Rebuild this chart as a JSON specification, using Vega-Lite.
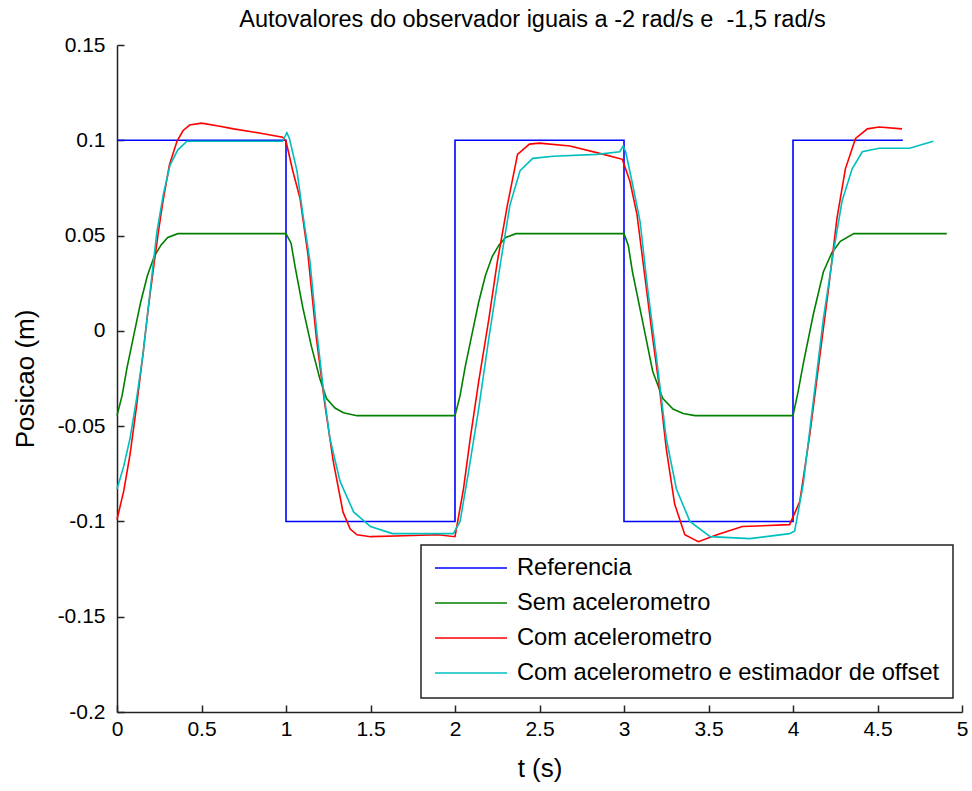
{
  "$schema": "https://vega.github.io/schema/vega-lite/v6.json",
  "width": 845,
  "height": 667,
  "autosize": {"type": "none"},
  "padding": {"left": 117, "top": 45, "right": 10, "bottom": 79},
  "background": "white",
  "title": {
    "text": "Autovalores do observador iguais a -2 rad/s e \u00a0-1,5 rad/s",
    "font": "Liberation Sans",
    "fontSize": 23.5,
    "fontWeight": "normal",
    "color": "black",
    "anchor": "middle",
    "frame": "group",
    "baseline": "alphabetic",
    "offset": 0,
    "dy": 16,
    "dx": -7
  },
  "data": {
    "values": [
      {"s": "Referencia", "t": 0, "y": 0.1},
      {"s": "Referencia", "t": 1, "y": 0.1},
      {"s": "Referencia", "t": 1, "y": -0.1},
      {"s": "Referencia", "t": 2, "y": -0.1},
      {"s": "Referencia", "t": 2, "y": 0.1},
      {"s": "Referencia", "t": 3, "y": 0.1},
      {"s": "Referencia", "t": 3, "y": -0.1},
      {"s": "Referencia", "t": 4, "y": -0.1},
      {"s": "Referencia", "t": 4, "y": 0.1},
      {"s": "Referencia", "t": 4.65, "y": 0.1},

      {"s": "Sem acelerometro", "t": 0, "y": -0.0445},
      {"s": "Sem acelerometro", "t": 0.03, "y": -0.034},
      {"s": "Sem acelerometro", "t": 0.06, "y": -0.019},
      {"s": "Sem acelerometro", "t": 0.1, "y": -0.002},
      {"s": "Sem acelerometro", "t": 0.14, "y": 0.015},
      {"s": "Sem acelerometro", "t": 0.18, "y": 0.029},
      {"s": "Sem acelerometro", "t": 0.22, "y": 0.039},
      {"s": "Sem acelerometro", "t": 0.26, "y": 0.045},
      {"s": "Sem acelerometro", "t": 0.3, "y": 0.049},
      {"s": "Sem acelerometro", "t": 0.36, "y": 0.051},
      {"s": "Sem acelerometro", "t": 1.0, "y": 0.051},
      {"s": "Sem acelerometro", "t": 1.03, "y": 0.046},
      {"s": "Sem acelerometro", "t": 1.055, "y": 0.033},
      {"s": "Sem acelerometro", "t": 1.1, "y": 0.012},
      {"s": "Sem acelerometro", "t": 1.15, "y": -0.008},
      {"s": "Sem acelerometro", "t": 1.2, "y": -0.025},
      {"s": "Sem acelerometro", "t": 1.24, "y": -0.0355},
      {"s": "Sem acelerometro", "t": 1.29, "y": -0.0405},
      {"s": "Sem acelerometro", "t": 1.34, "y": -0.043},
      {"s": "Sem acelerometro", "t": 1.42, "y": -0.0445},
      {"s": "Sem acelerometro", "t": 2.0, "y": -0.0445},
      {"s": "Sem acelerometro", "t": 2.03, "y": -0.034},
      {"s": "Sem acelerometro", "t": 2.06, "y": -0.019},
      {"s": "Sem acelerometro", "t": 2.1, "y": -0.002},
      {"s": "Sem acelerometro", "t": 2.14, "y": 0.015},
      {"s": "Sem acelerometro", "t": 2.18, "y": 0.029},
      {"s": "Sem acelerometro", "t": 2.22, "y": 0.039},
      {"s": "Sem acelerometro", "t": 2.26, "y": 0.045},
      {"s": "Sem acelerometro", "t": 2.3, "y": 0.049},
      {"s": "Sem acelerometro", "t": 2.36, "y": 0.051},
      {"s": "Sem acelerometro", "t": 3.0, "y": 0.051},
      {"s": "Sem acelerometro", "t": 3.025, "y": 0.045},
      {"s": "Sem acelerometro", "t": 3.05, "y": 0.031},
      {"s": "Sem acelerometro", "t": 3.11, "y": 0.005},
      {"s": "Sem acelerometro", "t": 3.17, "y": -0.0213},
      {"s": "Sem acelerometro", "t": 3.23, "y": -0.0355},
      {"s": "Sem acelerometro", "t": 3.29, "y": -0.041},
      {"s": "Sem acelerometro", "t": 3.35, "y": -0.0434},
      {"s": "Sem acelerometro", "t": 3.42, "y": -0.0445},
      {"s": "Sem acelerometro", "t": 4.0, "y": -0.0445},
      {"s": "Sem acelerometro", "t": 4.03, "y": -0.032},
      {"s": "Sem acelerometro", "t": 4.06, "y": -0.0176},
      {"s": "Sem acelerometro", "t": 4.12, "y": 0.0086},
      {"s": "Sem acelerometro", "t": 4.18, "y": 0.031},
      {"s": "Sem acelerometro", "t": 4.23, "y": 0.041},
      {"s": "Sem acelerometro", "t": 4.28, "y": 0.047},
      {"s": "Sem acelerometro", "t": 4.36, "y": 0.051},
      {"s": "Sem acelerometro", "t": 4.91, "y": 0.051},

      {"s": "Com acelerometro", "t": 0, "y": -0.099},
      {"s": "Com acelerometro", "t": 0.04, "y": -0.084},
      {"s": "Com acelerometro", "t": 0.077, "y": -0.065},
      {"s": "Com acelerometro", "t": 0.115, "y": -0.04},
      {"s": "Com acelerometro", "t": 0.154, "y": -0.012},
      {"s": "Com acelerometro", "t": 0.185, "y": 0.012},
      {"s": "Com acelerometro", "t": 0.213, "y": 0.031},
      {"s": "Com acelerometro", "t": 0.245, "y": 0.052},
      {"s": "Com acelerometro", "t": 0.272, "y": 0.068},
      {"s": "Com acelerometro", "t": 0.31, "y": 0.087},
      {"s": "Com acelerometro", "t": 0.355, "y": 0.0995},
      {"s": "Com acelerometro", "t": 0.39, "y": 0.105},
      {"s": "Com acelerometro", "t": 0.43, "y": 0.108},
      {"s": "Com acelerometro", "t": 0.5, "y": 0.109},
      {"s": "Com acelerometro", "t": 0.6, "y": 0.1075},
      {"s": "Com acelerometro", "t": 0.69, "y": 0.106},
      {"s": "Com acelerometro", "t": 0.85, "y": 0.1037},
      {"s": "Com acelerometro", "t": 0.98, "y": 0.1016},
      {"s": "Com acelerometro", "t": 1.0, "y": 0.0995},
      {"s": "Com acelerometro", "t": 1.04, "y": 0.084},
      {"s": "Com acelerometro", "t": 1.083, "y": 0.0695},
      {"s": "Com acelerometro", "t": 1.13, "y": 0.04},
      {"s": "Com acelerometro", "t": 1.18, "y": -0.004},
      {"s": "Com acelerometro", "t": 1.23, "y": -0.0387},
      {"s": "Com acelerometro", "t": 1.28, "y": -0.0686},
      {"s": "Com acelerometro", "t": 1.337, "y": -0.095},
      {"s": "Com acelerometro", "t": 1.38, "y": -0.104},
      {"s": "Com acelerometro", "t": 1.42, "y": -0.107},
      {"s": "Com acelerometro", "t": 1.5, "y": -0.108},
      {"s": "Com acelerometro", "t": 1.7, "y": -0.1075},
      {"s": "Com acelerometro", "t": 1.9, "y": -0.107},
      {"s": "Com acelerometro", "t": 2.0, "y": -0.108},
      {"s": "Com acelerometro", "t": 2.05, "y": -0.083},
      {"s": "Com acelerometro", "t": 2.09, "y": -0.0565},
      {"s": "Com acelerometro", "t": 2.14, "y": -0.0266},
      {"s": "Com acelerometro", "t": 2.2, "y": 0.006},
      {"s": "Com acelerometro", "t": 2.25, "y": 0.036},
      {"s": "Com acelerometro", "t": 2.31, "y": 0.066},
      {"s": "Com acelerometro", "t": 2.37, "y": 0.0926},
      {"s": "Com acelerometro", "t": 2.44, "y": 0.098},
      {"s": "Com acelerometro", "t": 2.5, "y": 0.0985},
      {"s": "Com acelerometro", "t": 2.68, "y": 0.097},
      {"s": "Com acelerometro", "t": 2.88, "y": 0.0926},
      {"s": "Com acelerometro", "t": 2.99, "y": 0.09},
      {"s": "Com acelerometro", "t": 3.035, "y": 0.0785},
      {"s": "Com acelerometro", "t": 3.077, "y": 0.061},
      {"s": "Com acelerometro", "t": 3.12, "y": 0.031},
      {"s": "Com acelerometro", "t": 3.17, "y": -0.004},
      {"s": "Com acelerometro", "t": 3.21, "y": -0.03},
      {"s": "Com acelerometro", "t": 3.25, "y": -0.0618},
      {"s": "Com acelerometro", "t": 3.3, "y": -0.091},
      {"s": "Com acelerometro", "t": 3.36, "y": -0.107},
      {"s": "Com acelerometro", "t": 3.44, "y": -0.1106},
      {"s": "Com acelerometro", "t": 3.55, "y": -0.107},
      {"s": "Com acelerometro", "t": 3.7, "y": -0.1027},
      {"s": "Com acelerometro", "t": 3.98, "y": -0.1017},
      {"s": "Com acelerometro", "t": 4.04, "y": -0.0896},
      {"s": "Com acelerometro", "t": 4.1, "y": -0.054},
      {"s": "Com acelerometro", "t": 4.16, "y": -0.0124},
      {"s": "Com acelerometro", "t": 4.21, "y": 0.022},
      {"s": "Com acelerometro", "t": 4.26, "y": 0.059},
      {"s": "Com acelerometro", "t": 4.31, "y": 0.085},
      {"s": "Com acelerometro", "t": 4.37, "y": 0.101},
      {"s": "Com acelerometro", "t": 4.44, "y": 0.106},
      {"s": "Com acelerometro", "t": 4.51, "y": 0.107},
      {"s": "Com acelerometro", "t": 4.645, "y": 0.106},

      {"s": "Com acelerometro e estimador de offset", "t": 0, "y": -0.083},
      {"s": "Com acelerometro e estimador de offset", "t": 0.04, "y": -0.071},
      {"s": "Com acelerometro e estimador de offset", "t": 0.077, "y": -0.0565},
      {"s": "Com acelerometro e estimador de offset", "t": 0.115, "y": -0.036},
      {"s": "Com acelerometro e estimador de offset", "t": 0.154, "y": -0.0124},
      {"s": "Com acelerometro e estimador de offset", "t": 0.195, "y": 0.02},
      {"s": "Com acelerometro e estimador de offset", "t": 0.236, "y": 0.052},
      {"s": "Com acelerometro e estimador de offset", "t": 0.275, "y": 0.072},
      {"s": "Com acelerometro e estimador de offset", "t": 0.314, "y": 0.087},
      {"s": "Com acelerometro e estimador de offset", "t": 0.36, "y": 0.095},
      {"s": "Com acelerometro e estimador de offset", "t": 0.414, "y": 0.0995},
      {"s": "Com acelerometro e estimador de offset", "t": 0.98, "y": 0.0995},
      {"s": "Com acelerometro e estimador de offset", "t": 1.005, "y": 0.104},
      {"s": "Com acelerometro e estimador de offset", "t": 1.02, "y": 0.101},
      {"s": "Com acelerometro e estimador de offset", "t": 1.065, "y": 0.084},
      {"s": "Com acelerometro e estimador de offset", "t": 1.1, "y": 0.061},
      {"s": "Com acelerometro e estimador de offset", "t": 1.142, "y": 0.0364},
      {"s": "Com acelerometro e estimador de offset", "t": 1.18, "y": 0.0013},
      {"s": "Com acelerometro e estimador de offset", "t": 1.22, "y": -0.03},
      {"s": "Com acelerometro e estimador de offset", "t": 1.26, "y": -0.0565},
      {"s": "Com acelerometro e estimador de offset", "t": 1.32, "y": -0.079},
      {"s": "Com acelerometro e estimador de offset", "t": 1.4, "y": -0.095},
      {"s": "Com acelerometro e estimador de offset", "t": 1.5, "y": -0.1027},
      {"s": "Com acelerometro e estimador de offset", "t": 1.63, "y": -0.1064},
      {"s": "Com acelerometro e estimador de offset", "t": 1.99, "y": -0.1064},
      {"s": "Com acelerometro e estimador de offset", "t": 2.03, "y": -0.1},
      {"s": "Com acelerometro e estimador de offset", "t": 2.08, "y": -0.074},
      {"s": "Com acelerometro e estimador de offset", "t": 2.14, "y": -0.041},
      {"s": "Com acelerometro e estimador de offset", "t": 2.2, "y": -0.004},
      {"s": "Com acelerometro e estimador de offset", "t": 2.27, "y": 0.036},
      {"s": "Com acelerometro e estimador de offset", "t": 2.325, "y": 0.066},
      {"s": "Com acelerometro e estimador de offset", "t": 2.385, "y": 0.084},
      {"s": "Com acelerometro e estimador de offset", "t": 2.46, "y": 0.0905},
      {"s": "Com acelerometro e estimador de offset", "t": 2.58, "y": 0.0916},
      {"s": "Com acelerometro e estimador de offset", "t": 2.84, "y": 0.0926},
      {"s": "Com acelerometro e estimador de offset", "t": 2.975, "y": 0.094},
      {"s": "Com acelerometro e estimador de offset", "t": 2.995, "y": 0.097},
      {"s": "Com acelerometro e estimador de offset", "t": 3.01, "y": 0.094},
      {"s": "Com acelerometro e estimador de offset", "t": 3.047, "y": 0.0785},
      {"s": "Com acelerometro e estimador de offset", "t": 3.095, "y": 0.0575},
      {"s": "Com acelerometro e estimador de offset", "t": 3.14, "y": 0.022},
      {"s": "Com acelerometro e estimador de offset", "t": 3.19, "y": -0.0124},
      {"s": "Com acelerometro e estimador de offset", "t": 3.25, "y": -0.0565},
      {"s": "Com acelerometro e estimador de offset", "t": 3.31, "y": -0.083},
      {"s": "Com acelerometro e estimador de offset", "t": 3.39, "y": -0.1},
      {"s": "Com acelerometro e estimador de offset", "t": 3.51, "y": -0.108},
      {"s": "Com acelerometro e estimador de offset", "t": 3.745, "y": -0.109},
      {"s": "Com acelerometro e estimador de offset", "t": 3.98, "y": -0.1064},
      {"s": "Com acelerometro e estimador de offset", "t": 4.01, "y": -0.105},
      {"s": "Com acelerometro e estimador de offset", "t": 4.06, "y": -0.0807},
      {"s": "Com acelerometro e estimador de offset", "t": 4.12, "y": -0.037},
      {"s": "Com acelerometro e estimador de offset", "t": 4.18, "y": 0.0065},
      {"s": "Com acelerometro e estimador de offset", "t": 4.24, "y": 0.0417},
      {"s": "Com acelerometro e estimador de offset", "t": 4.29, "y": 0.068},
      {"s": "Com acelerometro e estimador de offset", "t": 4.35, "y": 0.085},
      {"s": "Com acelerometro e estimador de offset", "t": 4.41, "y": 0.094},
      {"s": "Com acelerometro e estimador de offset", "t": 4.51, "y": 0.0958},
      {"s": "Com acelerometro e estimador de offset", "t": 4.69, "y": 0.0958},
      {"s": "Com acelerometro e estimador de offset", "t": 4.83, "y": 0.0995}
    ]
  },
  "mark": {"type": "line", "interpolate": "linear"},
  "encoding": {
    "x": {
      "field": "t",
      "type": "quantitative",
      "scale": {"domain": [0, 5], "nice": false, "zero": false},
      "axis": {
        "values": [0, 0.5, 1, 1.5, 2, 2.5, 3, 3.5, 4, 4.5, 5],
        "labelExpr": "datum.value + ''",
        "labelFlush": false,
        "title": "t (s)",
        "titleY": 56,
        "titleBaseline": "middle",
        "labelPadding": 13,
        "labelBaseline": "top"
      }
    },
    "y": {
      "field": "y",
      "type": "quantitative",
      "scale": {"domain": [-0.2, 0.15], "nice": false, "zero": false},
      "axis": {
        "values": [-0.2, -0.15, -0.1, -0.05, 0, 0.05, 0.1, 0.15],
        "labelExpr": "datum.value + ''",
        "labelFlush": false,
        "title": "Posicao (m)",
        "titleX": -92,
        "titleY": 333.5,
        "titleAngle": -90,
        "titleBaseline": "middle",
        "titleAlign": "center",
        "labelPadding": 19
      }
    },
    "color": {
      "field": "s",
      "type": "nominal",
      "scale": {
        "domain": ["Referencia", "Sem acelerometro", "Com acelerometro", "Com acelerometro e estimador de offset"],
        "range": ["#0000ff", "#008000", "#ff0000", "#00bfbf"]
      },
      "legend": {
        "title": null,
        "orient": "none",
        "legendX": 304,
        "legendY": 500,
        "direction": "vertical"
      }
    },
    "strokeWidth": {
      "field": "s",
      "type": "nominal",
      "scale": {
        "domain": ["Referencia", "Sem acelerometro", "Com acelerometro", "Com acelerometro e estimador de offset"],
        "range": [1.6, 1.6, 2.2, 2.2]
      },
      "legend": null
    }
  },
  "config": {
    "view": {"stroke": null},
    "axis": {
      "grid": false,
      "domainColor": "#222222",
      "domainWidth": 1.5,
      "tickColor": "#222222",
      "tickWidth": 1.5,
      "tickSize": -7,
      "labelFont": "Liberation Sans",
      "labelFontSize": 21,
      "labelColor": "black",
      "titleFont": "Liberation Sans",
      "titleFontSize": 26,
      "titleFontWeight": "normal",
      "titleColor": "black"
    },
    "legend": {
      "symbolType": "stroke",
      "symbolSize": 5184,
      "symbolStrokeWidth": 1.6,
      "clipHeight": 20,
      "rowPadding": 11,
      "labelFont": "Liberation Sans",
      "labelFontSize": 23.7,
      "labelColor": "black",
      "labelOffset": 9,
      "labelLimit": 700,
      "padding": 13,
      "strokeColor": "#222222",
      "strokeWidth": 1.5,
      "fillColor": "white"
    }
  }
}
